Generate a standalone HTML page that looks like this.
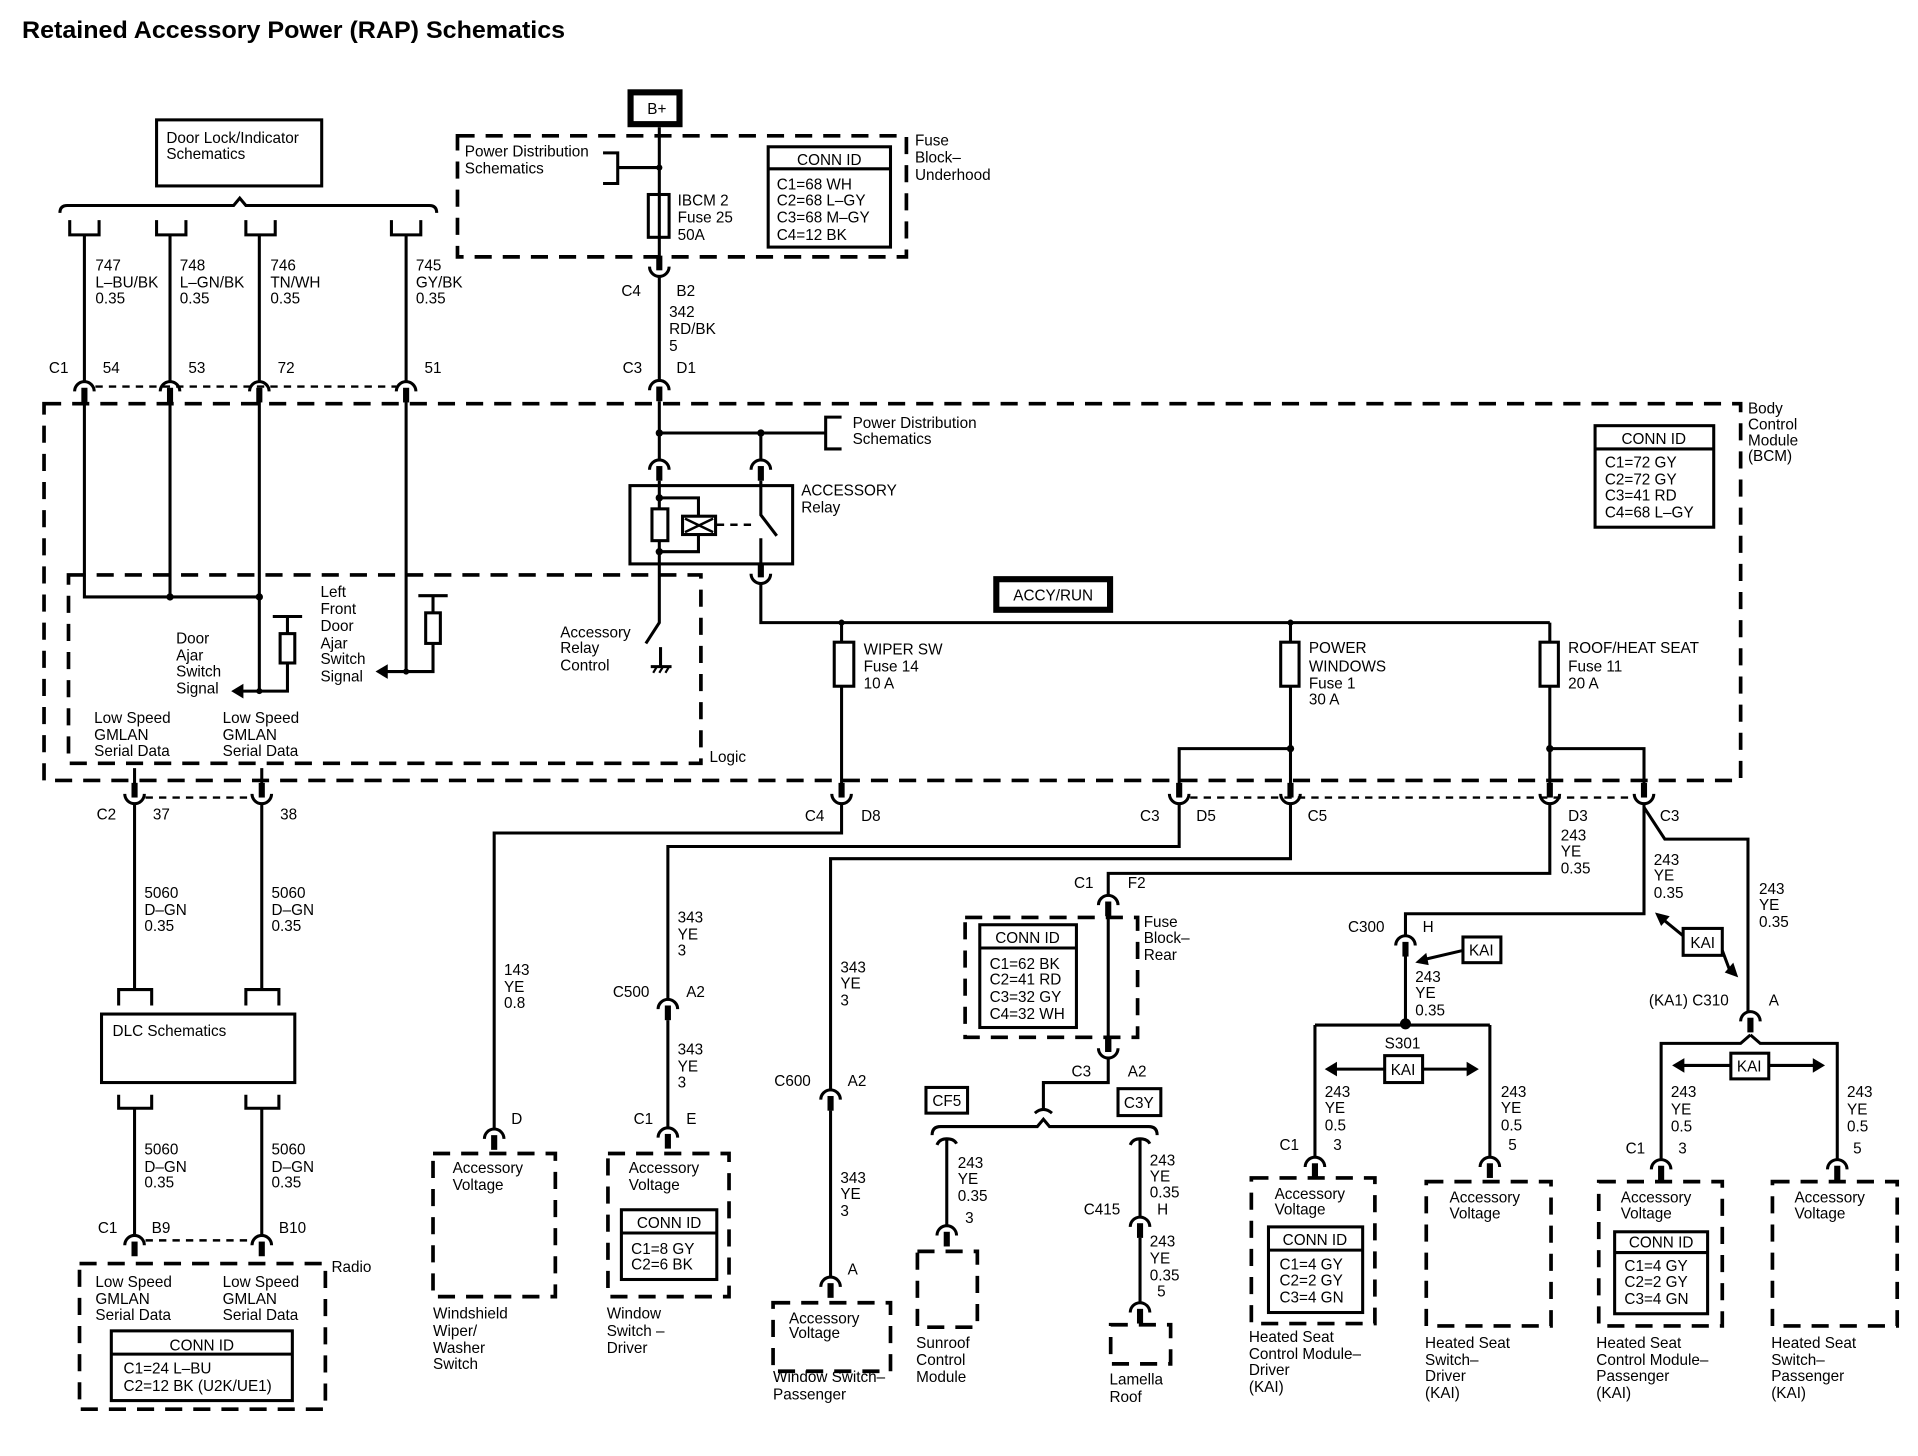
<!DOCTYPE html>
<html><head><meta charset="utf-8"><style>
html,body{margin:0;padding:0;background:#fff;}
svg{display:block;}
text{font-family:"Liberation Sans",Arial,sans-serif;font-size:12.5px;fill:#000;}
.w{stroke:#000;stroke-width:2.5;fill:none;}
.d{stroke:#000;stroke-width:3;fill:none;stroke-dasharray:14 9;}
.sd{stroke:#000;stroke-width:2;fill:none;stroke-dasharray:6 5;}
.b{stroke:#000;stroke-width:2.5;fill:#fff;}
.tb{stroke:#000;stroke-width:5;fill:#fff;}
.c{text-anchor:middle;}
</style></head><body>
<svg width="1918" height="1456" viewBox="0 0 1568 1190.3" preserveAspectRatio="none" xmlns="http://www.w3.org/2000/svg" xmlns:xlink="http://www.w3.org/1999/xlink">
<defs>
<g id="cd"><path d="M-8,7 A8,8 0 0 1 8,7" stroke="#000" stroke-width="2.5" fill="none"/><rect x="-2.5" y="4" width="5" height="12" fill="#000"/></g>
<g id="cu"><path d="M-8,-7 A8,8 0 0 0 8,-7" stroke="#000" stroke-width="2.5" fill="none"/><rect x="-2.5" y="-16" width="5" height="12" fill="#000"/></g>
</defs>
<rect width="1568" height="1190.3" fill="#fff"/>

<text x="18" y="31" style="font-size:20px;font-weight:bold" textLength="444" lengthAdjust="spacingAndGlyphs">Retained Accessory Power (RAP) Schematics</text>

<!-- Door lock -->
<rect x="128" y="98" width="135" height="54" class="b"/>
<text x="136" y="117">Door Lock/Indicator</text>
<text x="136" y="130">Schematics</text>
<path class="w" d="M49,174 Q49,168 55,168 L191,168 L196,162 L201,168 L351,168 Q357,168 357,174"/>
<path class="w" d="M57,180 V192 H81 V180 M128,180 V192 H152 V180 M201,180 V192 H225 V180 M320,180 V192 H344 V180"/>
<path class="w" d="M69,192 V313 M139,192 V313 M212,192 V313 M332,192 V313"/>
<text x="78" y="221">747</text><text x="78" y="235">L–BU/BK</text><text x="78" y="248">0.35</text>
<text x="147" y="221">748</text><text x="147" y="235">L–GN/BK</text><text x="147" y="248">0.35</text>
<text x="221" y="221">746</text><text x="221" y="235">TN/WH</text><text x="221" y="248">0.35</text>
<text x="340" y="221">745</text><text x="340" y="235">GY/BK</text><text x="340" y="248">0.35</text>
<text x="40" y="305">C1</text><text x="84" y="305">54</text><text x="154" y="305">53</text><text x="227" y="305">72</text><text x="347" y="305">51</text>
<line x1="78" y1="316" x2="324" y2="316" class="sd"/>
<use xlink:href="#cd" x="69" y="313"/><use xlink:href="#cd" x="139" y="313"/><use xlink:href="#cd" x="212" y="313"/><use xlink:href="#cd" x="332" y="313"/>

<!-- B+ and underhood -->
<rect x="515.5" y="75.5" width="40" height="26" class="tb"/>
<text x="537" y="93" class="c">B+</text>
<rect x="374" y="111" width="367" height="99" class="d"/>
<text x="380" y="128">Power Distribution</text><text x="380" y="142">Schematics</text>
<path class="w" d="M493,125 H505 V150 H493 M505,137 H539"/>
<circle cx="539" cy="137" r="2.5"/>
<rect x="530" y="159" width="17" height="35" class="b"/>
<text x="554" y="168">IBCM 2</text><text x="554" y="182">Fuse 25</text><text x="554" y="196">50A</text>
<rect x="628" y="120" width="100" height="82" class="b"/>
<line x1="628" y1="138" x2="728" y2="138" class="w"/>
<text x="678" y="135" class="c">CONN ID</text>
<text x="635" y="155">C1=68 WH</text><text x="635" y="168">C2=68 L–GY</text><text x="635" y="182">C3=68 M–GY</text><text x="635" y="196">C4=12 BK</text>
<text x="748" y="119">Fuse</text><text x="748" y="133">Block–</text><text x="748" y="147">Underhood</text>
<path class="w" d="M539,104 V212 M539,225 V312"/>
<use xlink:href="#cu" x="539" y="225"/>
<text x="508" y="242">C4</text><text x="553" y="242">B2</text>
<text x="547" y="259">342</text><text x="547" y="273">RD/BK</text><text x="547" y="287">5</text>
<text x="509" y="305">C3</text><text x="553" y="305">D1</text>
<use xlink:href="#cd" x="539" y="312"/>

<!-- BCM -->
<rect x="36" y="330" width="1387" height="308" class="d"/>
<text x="1429" y="338">Body</text><text x="1429" y="351">Control</text><text x="1429" y="364">Module</text><text x="1429" y="377">(BCM)</text>
<rect x="1304" y="348" width="97" height="83" class="b"/>
<line x1="1304" y1="367" x2="1401" y2="367" class="w"/>
<text x="1352" y="363" class="c">CONN ID</text>
<text x="1312" y="382">C1=72 GY</text><text x="1312" y="396">C2=72 GY</text><text x="1312" y="409">C3=41 RD</text><text x="1312" y="423">C4=68 L–GY</text>

<rect x="56" y="470" width="517" height="154" class="d"/>
<text x="580" y="623">Logic</text>

<path class="w" d="M69,328 V488 H212 M139,328 V488 M212,328 V565 M332,328 V549"/>
<circle cx="139" cy="488" r="3"/><circle cx="212" cy="488" r="3"/>
<!-- door ajar -->
<path class="w" d="M223,504 H247 M235,504 V518 M235,542 V565 H198"/>
<rect x="229" y="518" width="12" height="24" class="b"/>
<polygon points="189,565 199,559 199,571"/>
<circle cx="212" cy="565" r="2.5"/>
<path class="w" d="M342,487 H366 M354,487 V501 M354,526 V549 H316"/>
<rect x="348" y="501" width="12" height="25" class="b"/>
<polygon points="307,549 317,543 317,555"/>
<circle cx="332" cy="549" r="2.5"/>
<text x="144" y="526">Door</text><text x="144" y="540">Ajar</text><text x="144" y="553">Switch</text><text x="144" y="567">Signal</text>
<text x="262" y="488">Left</text><text x="262" y="502">Front</text><text x="262" y="516">Door</text><text x="262" y="530">Ajar</text><text x="262" y="543">Switch</text><text x="262" y="557">Signal</text>
<text x="77" y="591">Low Speed</text><text x="77" y="605">GMLAN</text><text x="77" y="618">Serial Data</text>
<text x="182" y="591">Low Speed</text><text x="182" y="605">GMLAN</text><text x="182" y="618">Serial Data</text>

<!-- relay -->
<path class="w" d="M539,328 V377 M539,354 H675 M622,354 V377 M688,341 H675 V367 H688"/>
<circle cx="539" cy="354" r="3"/><circle cx="622" cy="354" r="3"/>
<text x="697" y="350">Power Distribution</text><text x="697" y="363">Schematics</text>
<use xlink:href="#cd" x="539" y="377"/><use xlink:href="#cd" x="622" y="377"/>
<rect x="515" y="397" width="133" height="64" fill="none" stroke="#000" stroke-width="2.5"/>
<path class="w" d="M539,393 V416 M539,442 V509 L528,526 M539,407 H571 V422 M571,437 V451 H539"/>
<rect x="533" y="416" width="13" height="26" class="b"/>
<circle cx="539" cy="407" r="3"/><circle cx="539" cy="451" r="3"/>
<rect x="558" y="422" width="27" height="15" class="b"/>
<path d="M560,424 L583,435 M560,435 L583,424" stroke="#000" stroke-width="2"/>
<line x1="586" y1="429" x2="618" y2="429" class="sd"/>
<path class="w" d="M622,393 V421 L635,438 M622,440 V462"/>
<use xlink:href="#cu" x="622" y="476"/>
<text x="655" y="405">ACCESSORY</text><text x="655" y="419">Relay</text>
<text x="458" y="521">Accessory</text><text x="458" y="534">Relay</text><text x="458" y="548">Control</text>
<path class="w" d="M540,529 V545 M532,545 H549"/>
<path d="M534,550 L537,545 M539,550 L542,545 M544,550 L547,545" stroke="#000" stroke-width="1.8"/>

<rect x="814.5" y="473.5" width="93" height="25" class="tb"/>
<text x="861" y="491" class="c">ACCY/RUN</text>
<path class="w" d="M622,477 V509 H1267"/>
<circle cx="688" cy="509" r="2.5"/><circle cx="1055" cy="509" r="2.5"/>
<rect x="682" y="525" width="16" height="36" class="b"/>
<rect x="1047" y="525" width="15" height="36" class="b"/>
<rect x="1259" y="525" width="15" height="36" class="b"/>
<path class="w" d="M688,509 V525 M688,561 V645 M1055,509 V525 M1055,561 V645 M1267,509 V525 M1267,561 V645 M1055,612 H964 V645 M1267,612 H1344 V645"/>
<circle cx="1055" cy="612" r="3"/><circle cx="1267" cy="612" r="3"/>
<text x="706" y="535">WIPER SW</text><text x="706" y="549">Fuse 14</text><text x="706" y="563">10 A</text>
<text x="1070" y="534">POWER</text><text x="1070" y="549">WINDOWS</text><text x="1070" y="563">Fuse 1</text><text x="1070" y="576">30 A</text>
<text x="1282" y="534">ROOF/HEAT SEAT</text><text x="1282" y="549">Fuse 11</text><text x="1282" y="563">20 A</text>

<!-- BCM bottom connectors -->
<path class="w" d="M110,628 V645 M214,628 V645"/>
<use xlink:href="#cu" x="110" y="656"/><use xlink:href="#cu" x="214" y="656"/>
<line x1="119" y1="652" x2="205" y2="652" class="sd"/>
<text x="79" y="670">C2</text><text x="125" y="670">37</text><text x="229" y="670">38</text>
<use xlink:href="#cu" x="688" y="656"/><use xlink:href="#cu" x="964" y="656"/><use xlink:href="#cu" x="1055" y="656"/><use xlink:href="#cu" x="1267" y="656"/><use xlink:href="#cu" x="1344" y="656"/>
<line x1="973" y1="652" x2="1335" y2="652" class="sd"/>
<text x="658" y="671">C4</text><text x="704" y="671">D8</text>
<text x="932" y="671">C3</text><text x="978" y="671">D5</text>
<text x="1069" y="671">C5</text>
<text x="1282" y="671">D3</text><text x="1357" y="671">C3</text>

<!-- DLC -->
<path class="w" d="M110,657 V809 M214,657 V809 M97,822 V809 H124 V822 M201,822 V809 H228 V822"/>
<text x="118" y="734">5060</text><text x="118" y="748">D–GN</text><text x="118" y="761">0.35</text>
<text x="222" y="734">5060</text><text x="222" y="748">D–GN</text><text x="222" y="761">0.35</text>
<rect x="83" y="829" width="158" height="56" class="b"/>
<text x="92" y="847">DLC Schematics</text>
<path class="w" d="M97,895 V906 H124 V895 M201,895 V906 H228 V895 M110,906 V1011 M214,906 V1011"/>
<text x="118" y="944">5060</text><text x="118" y="958">D–GN</text><text x="118" y="971">0.35</text>
<text x="222" y="944">5060</text><text x="222" y="958">D–GN</text><text x="222" y="971">0.35</text>
<text x="80" y="1008">C1</text><text x="124" y="1008">B9</text><text x="228" y="1008">B10</text>
<line x1="119" y1="1014" x2="205" y2="1014" class="sd"/>
<use xlink:href="#cd" x="110" y="1011"/><use xlink:href="#cd" x="214" y="1011"/>
<rect x="65" y="1033" width="201" height="119" class="d"/>
<text x="271" y="1040">Radio</text>
<text x="78" y="1052">Low Speed</text><text x="78" y="1066">GMLAN</text><text x="78" y="1079">Serial Data</text>
<text x="182" y="1052">Low Speed</text><text x="182" y="1066">GMLAN</text><text x="182" y="1079">Serial Data</text>
<rect x="91" y="1088" width="148" height="57" class="b"/>
<line x1="91" y1="1107" x2="239" y2="1107" class="w"/>
<text x="165" y="1104" class="c">CONN ID</text>
<text x="101" y="1123">C1=24 L–BU</text><text x="101" y="1137">C2=12 BK (U2K/UE1)</text>

<!-- Windshield -->
<path class="w" d="M688,657 V681 H404 V924"/>
<text x="412" y="797">143</text><text x="412" y="811">YE</text><text x="412" y="824">0.8</text>
<text x="418" y="919">D</text>
<use xlink:href="#cd" x="404" y="924"/>
<rect x="354" y="943" width="100" height="117" class="d"/>
<text x="370" y="959">Accessory</text><text x="370" y="973">Voltage</text>
<text x="354" y="1078">Windshield</text><text x="354" y="1092">Wiper/</text><text x="354" y="1106">Washer</text><text x="354" y="1119">Switch</text>

<!-- Window driver -->
<path class="w" d="M964,657 V692 H546 V818 M546,834 V923"/>
<text x="554" y="754">343</text><text x="554" y="768">YE</text><text x="554" y="781">3</text>
<text x="501" y="815">C500</text><text x="561" y="815">A2</text>
<use xlink:href="#cd" x="546" y="818"/>
<text x="554" y="862">343</text><text x="554" y="876">YE</text><text x="554" y="889">3</text>
<text x="518" y="919">C1</text><text x="561" y="919">E</text>
<use xlink:href="#cd" x="546" y="923"/>
<rect x="497" y="943" width="99" height="117" class="d"/>
<text x="514" y="959">Accessory</text><text x="514" y="973">Voltage</text>
<rect x="508" y="989" width="78" height="57" class="b"/>
<line x1="508" y1="1008" x2="586" y2="1008" class="w"/>
<text x="547" y="1004" class="c">CONN ID</text>
<text x="516" y="1025">C1=8 GY</text><text x="516" y="1038">C2=6 BK</text>
<text x="496" y="1078">Window</text><text x="496" y="1092">Switch –</text><text x="496" y="1106">Driver</text>

<!-- Window passenger -->
<path class="w" d="M1055,657 V702 H679 V892 M679,908 V1045"/>
<text x="687" y="795">343</text><text x="687" y="808">YE</text><text x="687" y="822">3</text>
<text x="633" y="888">C600</text><text x="693" y="888">A2</text>
<use xlink:href="#cd" x="679" y="892"/>
<text x="687" y="967">343</text><text x="687" y="980">YE</text><text x="687" y="994">3</text>
<text x="693" y="1042">A</text>
<use xlink:href="#cd" x="679" y="1045"/>
<rect x="632" y="1065" width="96" height="56" class="d"/>
<text x="645" y="1082">Accessory</text><text x="645" y="1094">Voltage</text>
<text x="632" y="1130">Window Switch–</text><text x="632" y="1144">Passenger</text>

<!-- Fuse block rear -->
<path class="w" d="M1267,657 V714 H906 V733 M906,749 V852"/>
<text x="878" y="726">C1</text><text x="922" y="726">F2</text>
<use xlink:href="#cd" x="906" y="733"/>
<rect x="789" y="750" width="141" height="98" class="d"/>
<text x="935" y="758">Fuse</text><text x="935" y="771">Block–</text><text x="935" y="785">Rear</text>
<rect x="801" y="756" width="79" height="84" class="b"/>
<line x1="801" y1="775" x2="880" y2="775" class="w"/>
<text x="840" y="771" class="c">CONN ID</text>
<text x="809" y="792">C1=62 BK</text><text x="809" y="805">C2=41 RD</text><text x="809" y="819">C3=32 GY</text><text x="809" y="833">C4=32 WH</text>
<rect x="903.5" y="848" width="5" height="12" fill="#000"/>
<use xlink:href="#cu" x="906" y="864"/>
<text x="876" y="880">C3</text><text x="922" y="880">A2</text>
<path class="w" d="M906,865 V885 H853 V907"/>
<path class="w" d="M846,910 Q853,904 860,910"/>
<path class="w" d="M762,928 Q762,921 769,921 L848,921 L853,915 L858,921 L939,921 Q946,921 946,928"/>
<rect x="757" y="889" width="34" height="21" class="b"/>
<text x="774" y="904" class="c">CF5</text>
<rect x="914" y="890" width="35" height="22" class="b"/>
<text x="931" y="906" class="c">C3Y</text>
<!-- sunroof -->
<path class="w" d="M766,936 Q768,931 774,931 Q780,931 782,935 M774,931 V1003"/>
<text x="783" y="955">243</text><text x="783" y="968">YE</text><text x="783" y="982">0.35</text>
<text x="789" y="1000">3</text>
<use xlink:href="#cd" x="774" y="1003"/>
<rect x="750" y="1023" width="49" height="62" class="d"/>
<text x="749" y="1102">Sunroof</text><text x="749" y="1116">Control</text><text x="749" y="1130">Module</text>
<!-- lamella -->
<path class="w" d="M924,936 Q926,931 932,931 Q938,931 940,935 M932,931 V996 M932,1012 V1066"/>
<text x="940" y="953">243</text><text x="940" y="966">YE</text><text x="940" y="979">0.35</text>
<text x="886" y="993">C415</text><text x="946" y="993">H</text>
<use xlink:href="#cd" x="932" y="996"/>
<text x="940" y="1019">243</text><text x="940" y="1033">YE</text><text x="940" y="1047">0.35</text>
<text x="946" y="1060">5</text>
<use xlink:href="#cd" x="932" y="1066"/>
<rect x="908" y="1083" width="49" height="32" class="d"/>
<text x="907" y="1132">Lamella</text><text x="907" y="1146">Roof</text>

<!-- Heated seat driver -->
<path class="w" d="M1344,657 V747 H1149 V766 M1149,782 V838 M1075,838 H1218 M1075,838 V947 M1218,838 V947"/>
<text x="1276" y="687">243</text><text x="1276" y="700">YE</text><text x="1276" y="714">0.35</text>
<text x="1102" y="762">C300</text><text x="1163" y="762">H</text>
<use xlink:href="#cd" x="1149" y="766"/>
<rect x="1196" y="766" width="31" height="21" class="b"/>
<text x="1211" y="781" class="c">KAI</text>
<line x1="1196" y1="777" x2="1166" y2="784" class="w"/>
<polygon points="1157,787 1166,779 1168,789"/>
<text x="1157" y="803">243</text><text x="1157" y="816">YE</text><text x="1157" y="830">0.35</text>
<circle cx="1149" cy="837" r="4.5"/>
<text x="1132" y="857">S301</text>
<rect x="1132" y="863" width="31" height="22" class="b"/>
<text x="1147" y="879" class="c">KAI</text>
<path class="w" d="M1132,874 H1092 M1163,874 H1200"/>
<polygon points="1083,874 1093,868 1093,880"/><polygon points="1209,874 1199,868 1199,880"/>
<text x="1083" y="897">243</text><text x="1083" y="910">YE</text><text x="1083" y="924">0.5</text>
<text x="1227" y="897">243</text><text x="1227" y="910">YE</text><text x="1227" y="924">0.5</text>
<text x="1046" y="940">C1</text><text x="1090" y="940">3</text><text x="1233" y="940">5</text>
<use xlink:href="#cd" x="1075" y="947"/><use xlink:href="#cd" x="1218" y="947"/>
<rect x="1023" y="963" width="101" height="119" class="d"/>
<text x="1042" y="980">Accessory</text><text x="1042" y="993">Voltage</text>
<rect x="1037" y="1003" width="77" height="70" class="b"/>
<line x1="1037" y1="1022" x2="1114" y2="1022" class="w"/>
<text x="1075" y="1018" class="c">CONN ID</text>
<text x="1046" y="1038">C1=4 GY</text><text x="1046" y="1051">C2=2 GY</text><text x="1046" y="1065">C3=4 GN</text>
<text x="1021" y="1097">Heated Seat</text><text x="1021" y="1111">Control Module–</text><text x="1021" y="1124">Driver</text><text x="1021" y="1138">(KAI)</text>
<rect x="1166" y="966" width="102" height="118" class="d"/>
<text x="1185" y="983">Accessory</text><text x="1185" y="996">Voltage</text>
<text x="1165" y="1102">Heated Seat</text><text x="1165" y="1116">Switch–</text><text x="1165" y="1129">Driver</text><text x="1165" y="1143">(KAI)</text>

<!-- Heated seat passenger -->
<path class="w" d="M1344,660 L1361,686 H1429 V828 M1431,846 L1423,853 H1358 V949 M1431,846 L1439,853 H1502 V949"/>
<text x="1352" y="707">243</text><text x="1352" y="720">YE</text><text x="1352" y="734">0.35</text>
<text x="1438" y="731">243</text><text x="1438" y="744">YE</text><text x="1438" y="758">0.35</text>
<rect x="1376" y="759" width="32" height="22" class="b"/>
<text x="1392" y="775" class="c">KAI</text>
<path class="w" d="M1376,765 L1360,752 M1408,777 L1414,793"/>
<polygon points="1353,746 1365,749 1358,757"/>
<polygon points="1421,799 1410,795 1417,787"/>
<text x="1348" y="822">(KA1) C310</text><text x="1446" y="822">A</text>
<use xlink:href="#cd" x="1431" y="828"/>
<rect x="1415" y="861" width="31" height="21" class="b"/>
<text x="1430" y="876" class="c">KAI</text>
<path class="w" d="M1415,871 H1376 M1446,871 H1483"/>
<polygon points="1367,871 1377,865 1377,877"/><polygon points="1492,871 1482,865 1482,877"/>
<text x="1366" y="897">243</text><text x="1366" y="911">YE</text><text x="1366" y="925">0.5</text>
<text x="1510" y="897">243</text><text x="1510" y="911">YE</text><text x="1510" y="925">0.5</text>
<text x="1329" y="943">C1</text><text x="1372" y="943">3</text><text x="1515" y="943">5</text>
<use xlink:href="#cd" x="1358" y="949"/><use xlink:href="#cd" x="1502" y="949"/>
<rect x="1307" y="966" width="101" height="118" class="d"/>
<text x="1325" y="983">Accessory</text><text x="1325" y="996">Voltage</text>
<rect x="1320" y="1007" width="76" height="67" class="b"/>
<line x1="1320" y1="1024" x2="1396" y2="1024" class="w"/>
<text x="1358" y="1020" class="c">CONN ID</text>
<text x="1328" y="1039">C1=4 GY</text><text x="1328" y="1052">C2=2 GY</text><text x="1328" y="1066">C3=4 GN</text>
<text x="1305" y="1102">Heated Seat</text><text x="1305" y="1116">Control Module–</text><text x="1305" y="1129">Passenger</text><text x="1305" y="1143">(KAI)</text>
<rect x="1449" y="966" width="102" height="118" class="d"/>
<text x="1467" y="983">Accessory</text><text x="1467" y="996">Voltage</text>
<text x="1448" y="1102">Heated Seat</text><text x="1448" y="1116">Switch–</text><text x="1448" y="1129">Passenger</text><text x="1448" y="1143">(KAI)</text>
</svg>
</body></html>
